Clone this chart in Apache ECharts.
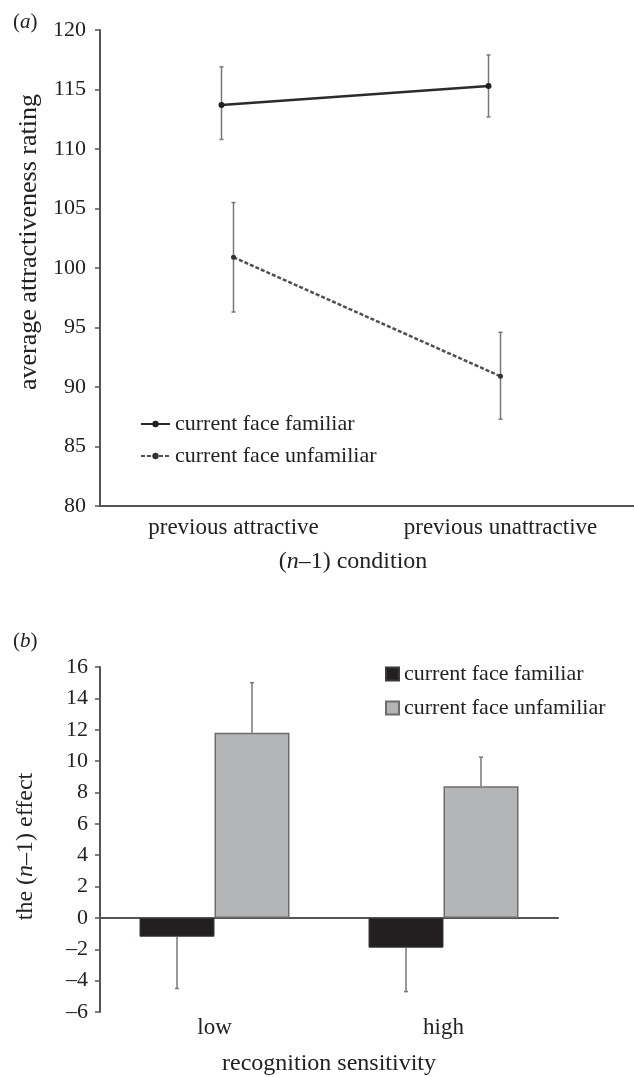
<!DOCTYPE html>
<html><head><meta charset="utf-8">
<script src="https://cdn.jsdelivr.net/npm/echarts@6/dist/echarts.min.js"></script>
<style>html,body{margin:0;padding:0;background:#fff}#c{width:634px;height:1077px}</style>
</head><body><div id="c"></div>
<script>
// ---- Panel (a) data ----
const conditionsA = ['previous attractive', 'previous unattractive'];
const familiarA = [113.7, 115.3];
const familiarALow = [110.8, 112.7];
const familiarAHigh = [116.9, 117.9];
const unfamiliarA = [100.9, 90.9];
const unfamiliarALow = [96.3, 87.3];
const unfamiliarAHigh = [105.5, 94.6];
const yRangeA = [80, 120, 5];

// ---- Panel (b) data ----
const sensitivityB = ['low', 'high'];
const familiarB = [-1.2, -1.9];
const familiarBErr = [3.3, 2.8];
const unfamiliarB = [11.8, 8.4];
const unfamiliarBErr = [3.2, 1.85];
const yRangeB = [-6, 16, 2];

const seriesLabels = ['current face familiar', 'current face unfamiliar'];

const FONT = 'Liberation Serif';
const TXT = '#222';
const AXIS = '#555';
const BAR_W = 75;
const ERR = '#777';

function errRender(offset, caps) {
  return function (params, api) {
    const x = api.value(0), lo = api.value(1), hi = api.value(2);
    const p1 = api.coord([x, lo]), p2 = api.coord([x, hi]);
    const cx = p1[0] + offset, c = 2;
    const st = { stroke: ERR, lineWidth: 1.5 };
    const ch = [{ type: 'line', shape: { x1: cx, y1: p1[1], x2: cx, y2: p2[1] }, style: st }];
    ch.push({ type: 'line', shape: { x1: cx - c, y1: p2[1], x2: cx + c, y2: p2[1] }, style: st });
    if (caps) ch.push({ type: 'line', shape: { x1: cx - c, y1: p1[1], x2: cx + c, y2: p1[1] }, style: st });
    return { type: 'group', children: ch };
  };
}

const nameStyle = (size, pad) => ({ fontFamily: FONT, fontSize: size, color: TXT, padding: pad,
  rich: { i: { fontFamily: FONT, fontStyle: 'italic', fontSize: size, color: TXT } } });

const chart = echarts.init(document.getElementById('c'));
chart.setOption({
  animation: false,
  backgroundColor: '#fff',
  textStyle: { fontFamily: FONT },
  graphic: [
    { type: 'text', left: 13, top: 12, style: { text: '({i|a})', fontFamily: FONT, fontSize: 21, fill: TXT,
      rich: { i: { fontFamily: FONT, fontStyle: 'italic', fontSize: 21, color: TXT } } } },
    { type: 'text', left: 13, top: 631, style: { text: '({i|b})', fontFamily: FONT, fontSize: 21, fill: TXT,
      rich: { i: { fontFamily: FONT, fontStyle: 'italic', fontSize: 21, color: TXT } } } }
  ],
  grid: [
    { left: 100, right: 0, top: 30, bottom: 571 },
    { left: 88, right: 12, top: 30, bottom: 571 },
    { left: 100, right: 76, top: 667, bottom: 62 }
  ],
  legend: [
    { orient: 'vertical', left: 135, top: 408, itemWidth: 29, itemHeight: 8, itemGap: 10,
      data: seriesLabels, textStyle: { fontFamily: FONT, fontSize: 22, color: TXT } },
    { orient: 'vertical', left: 380, top: 658, itemWidth: 13, itemHeight: 13, itemGap: 12, icon: 'rect',
      data: seriesLabels.map(s => 'b: ' + s), formatter: n => n.replace('b: ', ''),
      textStyle: { fontFamily: FONT, fontSize: 22, color: TXT } }
  ],
  xAxis: [
    { gridIndex: 0, type: 'category', data: conditionsA, boundaryGap: true,
      axisLine: { lineStyle: { color: AXIS, width: 2 } },
      axisTick: { alignWithLabel: true, length: 5, lineStyle: { color: AXIS, width: 1.5 } },
      axisLabel: { fontFamily: FONT, fontSize: 23, color: TXT, margin: 10 },
      name: '({i|n}–1) condition', nameLocation: 'middle', nameGap: 44, nameTextStyle: nameStyle(24, [0, 28, 0, 0]) },
    { gridIndex: 1, type: 'category', data: conditionsA, show: false },
    { gridIndex: 2, type: 'category', data: sensitivityB,
      axisLine: { onZero: true, lineStyle: { color: AXIS, width: 2 } },
      axisTick: { show: false }, axisLabel: { show: false } },
    { gridIndex: 2, type: 'category', data: sensitivityB, position: 'bottom',
      axisLine: { show: false, onZero: false }, axisTick: { show: false },
      axisLabel: { fontFamily: FONT, fontSize: 23, color: TXT, margin: 4 },
      name: 'recognition sensitivity', nameLocation: 'middle', nameGap: 40, nameTextStyle: nameStyle(24, [0, 0, 0, 0]) }
  ],
  yAxis: [
    { gridIndex: 0, type: 'value', min: yRangeA[0], max: yRangeA[1], interval: yRangeA[2],
      axisLine: { show: true, lineStyle: { color: AXIS, width: 2 } },
      axisTick: { show: true, length: 5, lineStyle: { color: AXIS, width: 1.5 } },
      splitLine: { show: false },
      axisLabel: { fontFamily: FONT, fontSize: 22, color: TXT, margin: 14 },
      name: 'average attractiveness rating', nameLocation: 'middle', nameGap: 58, nameTextStyle: nameStyle(26, [0, 0, 0, 52]) },
    { gridIndex: 1, type: 'value', min: yRangeA[0], max: yRangeA[1], interval: yRangeA[2], show: false, splitLine: { show: false } },
    { gridIndex: 2, type: 'value', min: yRangeB[0], max: yRangeB[1], interval: yRangeB[2],
      axisLine: { show: true, lineStyle: { color: AXIS, width: 2 } },
      axisTick: { show: true, length: 5, lineStyle: { color: AXIS, width: 1.5 } },
      splitLine: { show: false },
      axisLabel: { fontFamily: FONT, fontSize: 22, color: TXT, margin: 12, formatter: v => String(v).replace('-', '–') },
      name: 'the ({i|n}–1) effect', nameLocation: 'middle', nameGap: 62, nameTextStyle: nameStyle(24, [0, 14, 0, 0]) }
  ],
  series: [
    { type: 'custom', xAxisIndex: 1, yAxisIndex: 1, renderItem: errRender(0, true), z: 1,
      data: familiarA.map((v, i) => [i, familiarALow[i], familiarAHigh[i]]) },
    { type: 'custom', xAxisIndex: 0, yAxisIndex: 0, renderItem: errRender(0, true), z: 1,
      data: unfamiliarA.map((v, i) => [i, unfamiliarALow[i], unfamiliarAHigh[i]]) },
    { name: seriesLabels[0], type: 'line', xAxisIndex: 1, yAxisIndex: 1, data: familiarA, z: 3,
      symbol: 'circle', symbolSize: 6, itemStyle: { color: '#222' },
      lineStyle: { color: '#2b2b2b', width: 2.5 } },
    { name: seriesLabels[1], type: 'line', xAxisIndex: 0, yAxisIndex: 0, data: unfamiliarA, z: 3,
      symbol: 'circle', symbolSize: 5, itemStyle: { color: '#333' },
      lineStyle: { color: '#505050', width: 2.5, type: [4, 2] } },
    { name: 'b: ' + seriesLabels[0], type: 'bar', xAxisIndex: 2, yAxisIndex: 2, data: familiarB,
      barWidth: BAR_W, barGap: '0%', itemStyle: { color: '#231f20', borderColor: '#3a3a3a', borderWidth: 1 } },
    { name: 'b: ' + seriesLabels[1], type: 'bar', xAxisIndex: 2, yAxisIndex: 2, data: unfamiliarB,
      barWidth: BAR_W, barGap: '0%', itemStyle: { color: '#b4b5b7', borderColor: '#6d6d6d', borderWidth: 1.5 } },
    { type: 'custom', xAxisIndex: 2, yAxisIndex: 2, renderItem: errRender(-BAR_W / 2, false), z: 1,
      data: familiarB.map((v, i) => [i, v, v - familiarBErr[i]]) },
    { type: 'custom', xAxisIndex: 2, yAxisIndex: 2, renderItem: errRender(BAR_W / 2, false), z: 1,
      data: unfamiliarB.map((v, i) => [i, v, v + unfamiliarBErr[i]]) }
  ]
});
</script></body></html>
